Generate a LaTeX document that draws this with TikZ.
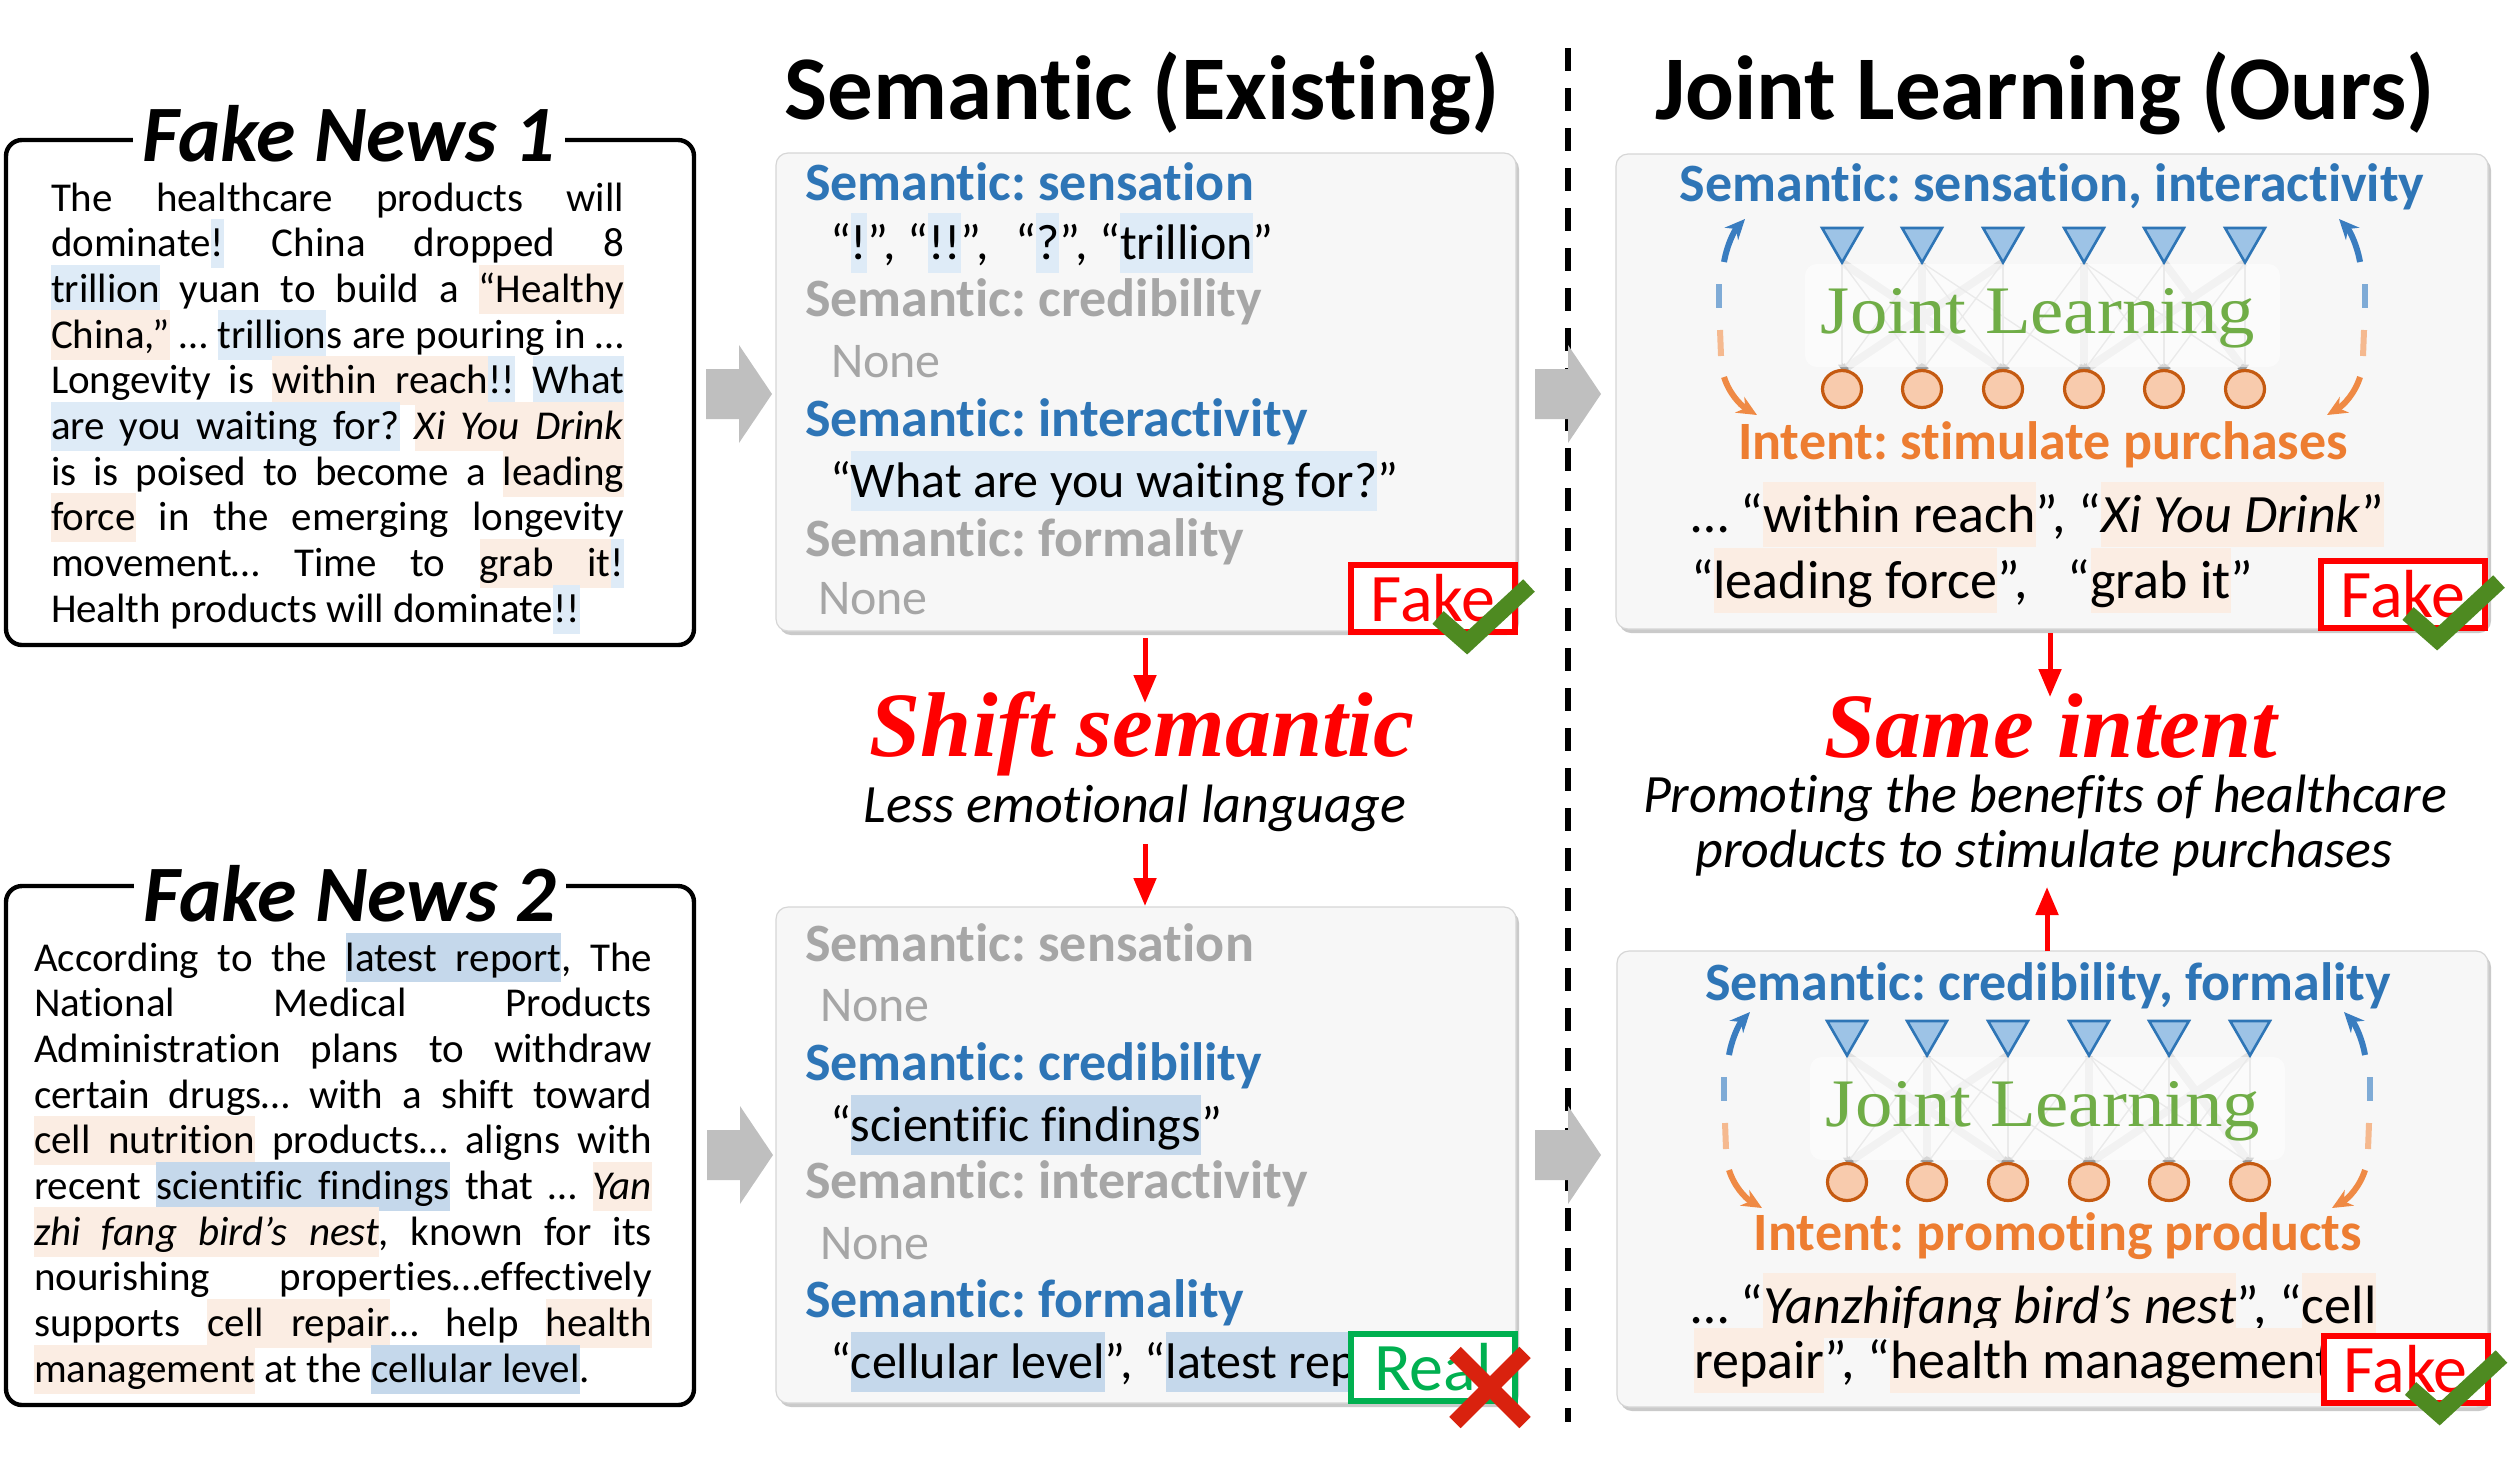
\documentclass[tikz,border=0pt]{standalone}
\usepackage{fontspec}
\newfontfamily\calf[Ligatures=NoCommon]{Carlito}
\newfontfamily\serf{Liberation Serif}
\newfontfamily\jlf[FakeStretch=1.1]{Liberation Serif}
\usetikzlibrary{arrows.meta,shapes.geometric,shadows}
\definecolor{hlblue}{HTML}{DEEBF7}
\definecolor{hlorange}{HTML}{FBEDE3}
\definecolor{hldark}{HTML}{C5D8EB}
\definecolor{semblue}{HTML}{2E75B6}
\definecolor{semgray}{HTML}{A6A6A6}
\definecolor{intorange}{HTML}{ED7D31}
\definecolor{jlgreen}{HTML}{70AD47}
\definecolor{panelfill}{HTML}{F7F7F7}
\definecolor{panelline}{HTML}{D6D6D6}
\definecolor{arrowgray}{HTML}{BFBFBF}
\definecolor{realgreen}{HTML}{00B050}
\definecolor{checkgreen}{HTML}{4E8A21}
\definecolor{xred}{HTML}{D9220E}
\definecolor{trifill}{HTML}{9DC3E6}
\definecolor{triline}{HTML}{2E75B6}
\definecolor{circfill}{HTML}{F8CBAD}
\definecolor{circline}{HTML}{C55A11}
\definecolor{arcblue}{HTML}{3A7DC0}
\definecolor{arcorange}{HTML}{EF8A45}

\newcommand\hlbox[2]{{\setlength{\fboxsep}{0pt}\colorbox{#1}{\vrule height .92em depth .28em width 0pt\relax#2}}}
\newcommand\hlB[1]{\hlbox{hlblue}{#1}}
\newcommand\hlO[1]{\hlbox{hlorange}{#1}}
\newcommand\hlD[1]{\hlbox{hldark}{#1}}
\newcommand\gapc[1]{{\color{#1}\leaders\vrule height .92em depth .28em\hskip\fontdimen2\font plus\fontdimen3\font minus\fontdimen4\font}}
\newcommand\jline[1]{\makebox[\linewidth][s]{#1}\\}

\pgfdeclarelayer{panel}
\pgfdeclarelayer{lines}
\pgfdeclarelayer{wbox}
\pgfsetlayers{panel,lines,wbox,main}

\tikzset{
  every node/.style={inner sep=0pt, outer sep=0pt},
  newsbox/.style={draw=black, line width=2.2pt, rounded corners=8pt, anchor=north west},
  newstitle/.style={fill=white, inner xsep=5pt, inner ysep=2pt, anchor=base,
     font=\calf\bfseries\itshape\fontsize{40pt}{44pt}\selectfont},
  newstext/.style={anchor=base west, font=\calf\fontsize{20.5pt}{22.85pt}\selectfont},
  coltitle/.style={anchor=base, font=\calf\bfseries\fontsize{45.5pt}{50pt}\selectfont},
  panel/.style={draw=panelline, line width=0.6pt, fill=panelfill, rounded corners=6pt,
     anchor=north west, drop shadow={shadow xshift=1.5pt, shadow yshift=-2pt, opacity=0.35, fill=black!60}},
  hdr/.style={anchor=base west, font=\calf\bfseries\fontsize{27pt}{30pt}\selectfont},
  cnt/.style={anchor=base west, font=\calf\fontsize{25pt}{28pt}\selectfont},
  rcnt/.style={anchor=base west, font=\calf\fontsize{27pt}{30pt}\selectfont},
  verdict/.style={line width=3pt, fill=white, minimum width=82pt, minimum height=33.5pt,
     font=\calf\fontsize{34pt}{36pt}\selectfont},
  redarrow/.style={draw=red, line width=2.5pt, -{Triangle[length=14pt,width=11pt]}},
  bigred/.style={anchor=base, text=red, font=\serf\bfseries\itshape\fontsize{46pt}{50pt}\selectfont},
  expl/.style={anchor=base, font=\calf\itshape\fontsize{27pt}{30pt}\selectfont},
  tri/.style={regular polygon, regular polygon sides=3, shape border rotate=180, minimum size=23pt,
     fill=trifill, draw=triline, line width=1.3pt},
  circ/.style={ellipse, minimum width=19.5pt, minimum height=18.5pt, fill=circfill, draw=circline, line width=1.6pt},
  jlthick/.style={draw=black!12, line width=4pt, -{Triangle[length=3pt,width=5pt,color=black!40]}},
  jlthin/.style={draw=black!20, line width=0.7pt, -{Triangle[length=3pt,width=4pt,color=black!40]}},
  jltext/.style={anchor=base, text=jlgreen, font=\jlf\fontsize{34pt}{36pt}\selectfont},
  arcdash/.style={line width=3pt},
  checkmk/.style={draw=checkgreen, line width=8.5pt},
  xmk/.style={draw=xred, line width=8pt}
}

\newcommand\jlarcs{%
  \draw[arcdash, arcblue, -{Stealth[length=10pt,width=9pt]}] (1724,262) .. controls (1727,245) and (1734,231) .. (1745,219);
  \draw[arcdash, arcblue!65!white] (1719,284) -- (1719,308);
  \draw[arcdash, arcorange!60!white] (1720,330) -- (1721,356);
  \draw[arcdash, arcorange, -{Stealth[length=10pt,width=9pt]}] (1724,377) .. controls (1729,393) and (1740,405) .. (1757,415);
}

\newcommand\jlnet[3]{%
\begin{scope}[shift={(#1,#2)}]
  \foreach \i/\xx in {1/1842,2/1922,3/2003,4/2084,5/2164,6/2245}{%
    \node[tri] (t\i#3) at (\xx,239.5) {};
    \node[circ] (c\i#3) at (\xx,389) {};
  }
  \begin{pgfonlayer}{lines}
    \foreach \a/\b in {1/3,2/2,3/1,4/4,5/6,6/4}{\draw[jlthick] (t\a#3.corner 1) -- (c\b#3.north);}
    \foreach \a/\b in {1/1,1/2,2/1,2/3,2/4,3/2,3/3,4/3,4/5,4/6,5/4,5/5,6/5,6/6}{\draw[jlthin] (t\a#3.corner 1) -- (c\b#3.north);}
  \end{pgfonlayer}
  \begin{pgfonlayer}{wbox}
    \fill[white, opacity=0.6, rounded corners=6pt] (1805,264) rectangle (2280,367);
  \end{pgfonlayer}
  \node[jltext] (jl#3) at (2038,333) {Joint Learning};
  \jlarcs
  \begin{scope}[shift={(4084,0)}, xscale=-1]
    \jlarcs
  \end{scope}
\end{scope}}

\newcommand\grayarrow[2]{\fill[arrowgray] (#1,#2) ++(0,-25) -- ++(33,0) -- ++(0,-24) -- ++(33,49) -- ++(-33,49) -- ++(0,-24) -- ++(-33,0) -- cycle;}

\begin{document}
\frenchspacing
\begin{tikzpicture}[x=0.5pt,y=-0.5pt]
\useasboundingbox (0,0) rectangle (2520,1462);

% ---------------- left: fake news boxes
\node[newsbox, minimum width=344pt, minimum height=252.5pt] (box1) at (6,140) {};
\node[newstitle] (title1) at (349,161) {Fake News 1};
\node[newstext] (txt1) at (51,211) {\begin{minipage}[t]{286.5pt}\setlength\lineskiplimit{-30pt}\setlength\parindent{0pt}%
\jline{The healthcare products will}
\jline{dominate\hlB{!} China dropped 8}
\jline{\hlB{trillion} yuan to build a \hlO{“Healthy}}
\jline{\hlO{China,”} … \hlB{trillion}s are pouring in …}
\jline{Longevity is \hlO{within}\gapc{hlorange}\hlO{reach}\hlB{!!} \hlB{What}}
\jline{\hlB{are}\gapc{hlblue}\hlB{you}\gapc{hlblue}\hlB{waiting}\gapc{hlblue}\hlB{for?} \hlO{\textit{Xi}}\gapc{hlorange}\hlO{\textit{You}}\gapc{hlorange}\hlO{\textit{Drink}}}
\jline{is is poised to become a \hlO{leading}}
\jline{\hlO{force} in the emerging longevity}
\jline{movement… Time to \hlO{grab}\gapc{hlorange}\hlO{it}\hlB{!}}
Health products will dominate\hlB{!!}%
\end{minipage}};

\node[newsbox, minimum width=344pt, minimum height=259.5pt] (box2) at (6,886) {};
\node[newstitle] (title2) at (350,921) {Fake News 2};
\node[newstext] (txt2) at (34,971) {\begin{minipage}[t]{309pt}\setlength\lineskiplimit{-30pt}\setlength\parindent{0pt}%
\jline{According to the \hlD{latest}\gapc{hldark}\hlD{report}, The}
\jline{National Medical Products}
\jline{Administration plans to withdraw}
\jline{certain drugs… with a shift toward}
\jline{\hlO{cell}\gapc{hlorange}\hlO{nutrition} products… aligns with}
\jline{recent \hlD{scientific}\gapc{hldark}\hlD{findings} that … \hlO{\textit{Yan}}}
\jline{\hlO{\textit{zhi}}\gapc{hlorange}\hlO{\textit{fang}}\gapc{hlorange}\hlO{\textit{bird’s}}\gapc{hlorange}\hlO{\textit{nest}}, known for its}
\jline{nourishing properties…effectively}
\jline{supports \hlO{cell}\gapc{hlorange}\hlO{repair}… help \hlO{health}}
\hlO{management} at the \hlD{cellular}\gapc{hldark}\hlD{level}.%
\end{minipage}};

% ---------------- column titles and divider
\node[coltitle] (ct1) at (1142,119) {Semantic (Existing)};
\node[coltitle] (ct2) at (2045,119) {Joint Learning (Ours)};
\coordinate (dvtop) at (1568,48);
\coordinate (dvbot) at (1568,1422);
\draw[line width=3pt, dash pattern=on 11.5pt off 8.5pt] (dvtop) -- (dvbot);

% ---------------- gray block arrows
\grayarrow{706}{394}
\grayarrow{1535}{394}
\grayarrow{707}{1155}
\grayarrow{1535}{1155}

% ---------------- panels
\begin{pgfonlayer}{panel}
\node[panel, minimum width=370pt, minimum height=239pt] (pM1) at (776,153) {};
\node[panel, minimum width=370pt, minimum height=248pt] (pM2) at (776,907) {};
\node[panel, minimum width=436pt, minimum height=237.5pt] (pR1) at (1616,154) {};
\node[panel, minimum width=435.5pt, minimum height=228pt] (pR2) at (1617,951) {};
\end{pgfonlayer}

% ---------------- middle top panel
\node[hdr, text=semblue] (m1h1) at (805,200) {Semantic: sensation};
\node[cnt] (m1c1) at (830,259) {“\hlB{!}”, “\hlB{!!}”,\hspace{13pt}“\hlB{?}”, “\hlB{trillion}”};
\node[hdr, text=semgray] (m1h2) at (805,316) {Semantic: credibility};
\node[cnt, text=semgray] (m1c2) at (831,377) {None};
\node[hdr, text=semblue] (m1h3) at (805,436) {Semantic: interactivity};
\node[cnt] (m1c3) at (830,497) {“\hlB{What are you waiting for?}”};
\node[hdr, text=semgray] (m1h4) at (805,556) {Semantic: formality};
\node[cnt, text=semgray] (m1c4) at (818,614) {None};
\node[verdict, draw=red, text=red] (v1) at (1433,598.5) {Fake};
\draw[checkmk, shift={(v1.center)}] (5,19) -- (34,44.5) -- (96,-13);

% ---------------- middle bottom panel
\node[hdr, text=semgray] (m2h1) at (805,961) {Semantic: sensation};
\node[cnt, text=semgray] (m2c1) at (820,1021) {None};
\node[hdr, text=semblue] (m2h2) at (805,1080) {Semantic: credibility};
\node[cnt] (m2c2) at (830,1141) {“\hlD{scientific findings}”};
\node[hdr, text=semgray] (m2h3) at (805,1198) {Semantic: interactivity};
\node[cnt, text=semgray] (m2c3) at (820,1259) {None};
\node[hdr, text=semblue] (m2h4) at (805,1317) {Semantic: formality};
\node[cnt] (m2c4) at (830,1378) {“\hlD{cellular level}”, “\hlD{latest report}”};
\node[verdict, draw=realgreen, text=realgreen] (v2) at (1433,1367.5) {Real};
\draw[xmk, shift={(v2.center)}] (22,-15) -- (92,55) (92,-15) -- (22,55);

% ---------------- middle explanation
\coordinate (a1s) at (1145,638);
\coordinate (a1e) at (1145,703);
\draw[redarrow] (a1s) -- (a1e);
\node[bigred] (shift) at (1142,756) {Shift semantic};
\node[expl] (less) at (1135,822) {Less emotional language};
\coordinate (a2s) at (1145,844);
\coordinate (a2e) at (1145,906);
\draw[redarrow] (a2s) -- (a2e);

% ---------------- right top panel
\node[hdr, anchor=base, text=semblue] (r1h) at (2052,201) {Semantic: sensation, interactivity};
\jlnet{0}{0}{a}
\node[hdr, anchor=base, text=intorange] (r1i) at (2043,459) {Intent: stimulate purchases};
\node[rcnt] (r1c1) at (1691,532) {… “\hlO{within reach}”, “\hlO{\textit{Xi You Drink}”}};
\node[rcnt] (r1c2) at (1691,598) {“\hlO{leading force}”,\hspace{20pt}“\hlO{grab it}”};
\node[verdict, draw=red, text=red] (v3) at (2403,594.5) {Fake};
\draw[checkmk, shift={(v3.center)}] (5,19) -- (34,44.5) -- (96,-13);

% ---------------- right bottom panel
\node[hdr, anchor=base, text=semblue] (r2h) at (2048,1000) {Semantic: credibility, formality};
\jlnet{5}{793}{b}
\node[hdr, anchor=base, text=intorange] (r2i) at (2058,1250) {Intent: promoting products};
\node[rcnt] (r2c1) at (1691,1323) {… “\hlO{\textit{Yanzhifang bird’s nest}}”, “\hlO{cell}};
\node[rcnt] (r2c2) at (1694,1378) {\hlO{repair}”, “\hlO{health management”}};
\node[verdict, draw=red, text=red] (v4) at (2405.5,1369.5) {Fake};
\draw[checkmk, shift={(v4.center)}] (5,19) -- (34,44.5) -- (96,-13);

% ---------------- right explanation
\coordinate (a3s) at (2050,633);
\coordinate (a3e) at (2050,697);
\draw[redarrow] (a3s) -- (a3e);
\node[bigred] (same) at (2051,757) {Same intent};
\node[expl] (prom1) at (2045,812) {Promoting the benefits of healthcare};
\node[expl] (prom2) at (2044,867) {products to stimulate purchases};
\coordinate (a4s) at (2047,951);
\coordinate (a4e) at (2047,887);
\draw[redarrow] (a4s) -- (a4e);

\end{tikzpicture}
\end{document}
